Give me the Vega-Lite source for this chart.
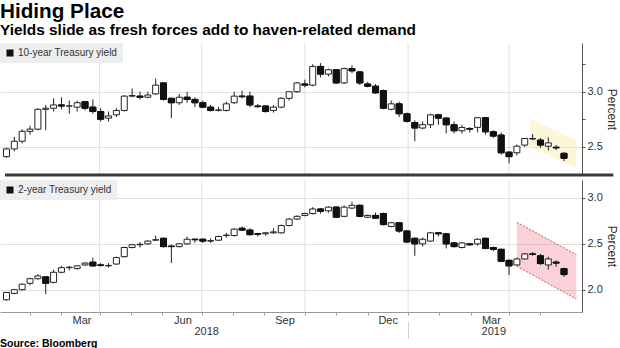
{
"$schema": "https://vega.github.io/schema/vega-lite/v6.json",
"padding": {"left": 0, "top": 1, "right": 0, "bottom": 0},
"background": "white",
"config": {"font": "Liberation Sans", "view": {"stroke": null}, "concat": {"spacing": 2}},
"title": {"text": "Hiding Place", "subtitle": "Yields slide as fresh forces add to haven-related demand", "anchor": "start", "frame": "group", "font": "Liberation Sans", "fontSize": 20.7, "fontWeight": "bold", "color": "#000", "subtitleFont": "Liberation Sans", "subtitleFontSize": 15.4, "subtitleFontWeight": "bold", "subtitleColor": "#000", "subtitlePadding": 0, "offset": 3},
"datasets": {
"quarters": [{"date": "2018-04-01"}, {"date": "2018-07-01"}, {"date": "2018-10-01"}, {"date": "2019-01-01"}, {"date": "2019-04-01"}],
"band10": [{"date": "2019-04-20", "top": 2.752, "bottom": 2.497}, {"date": "2019-05-31", "top": 2.561, "bottom": 2.306}],
"band2": [{"date": "2019-04-08", "top": 2.735, "bottom": 2.255}, {"date": "2019-05-31", "top": 2.382, "bottom": 1.898}],
"ten": [
{"date":"2018-01-08","open":2.41,"high":2.49,"low":2.40,"close":2.48},
{"date":"2018-01-15","open":2.48,"high":2.59,"low":2.46,"close":2.55},
{"date":"2018-01-22","open":2.55,"high":2.66,"low":2.53,"close":2.64},
{"date":"2018-01-29","open":2.64,"high":2.69,"low":2.61,"close":2.66},
{"date":"2018-02-05","open":2.66,"high":2.85,"low":2.65,"close":2.84},
{"date":"2018-02-12","open":2.84,"high":2.88,"low":2.65,"close":2.85},
{"date":"2018-02-19","open":2.85,"high":2.94,"low":2.82,"close":2.88},
{"date":"2018-02-26","open":2.88,"high":2.95,"low":2.84,"close":2.87},
{"date":"2018-03-05","open":2.87,"high":2.92,"low":2.80,"close":2.87},
{"date":"2018-03-12","open":2.86,"high":2.92,"low":2.82,"close":2.90},
{"date":"2018-03-19","open":2.91,"high":2.91,"low":2.83,"close":2.85},
{"date":"2018-03-26","open":2.86,"high":2.93,"low":2.80,"close":2.82},
{"date":"2018-04-02","open":2.82,"high":2.85,"low":2.73,"close":2.75},
{"date":"2018-04-09","open":2.76,"high":2.82,"low":2.73,"close":2.78},
{"date":"2018-04-16","open":2.79,"high":2.85,"low":2.77,"close":2.83},
{"date":"2018-04-23","open":2.83,"high":2.97,"low":2.82,"close":2.96},
{"date":"2018-04-30","open":2.96,"high":3.03,"low":2.95,"close":2.965},
{"date":"2018-05-07","open":2.96,"high":3.00,"low":2.93,"close":2.95},
{"date":"2018-05-14","open":2.95,"high":3.00,"low":2.94,"close":2.97},
{"date":"2018-05-21","open":2.98,"high":3.12,"low":2.97,"close":3.06},
{"date":"2018-05-28","open":3.08,"high":3.08,"low":2.92,"close":2.93},
{"date":"2018-06-04","open":2.94,"high":2.94,"low":2.76,"close":2.90},
{"date":"2018-06-11","open":2.90,"high":2.98,"low":2.88,"close":2.95},
{"date":"2018-06-18","open":2.95,"high":3.00,"low":2.90,"close":2.93},
{"date":"2018-06-25","open":2.93,"high":2.95,"low":2.86,"close":2.90},
{"date":"2018-07-02","open":2.90,"high":2.92,"low":2.85,"close":2.86},
{"date":"2018-07-09","open":2.86,"high":2.88,"low":2.82,"close":2.83},
{"date":"2018-07-16","open":2.83,"high":2.86,"low":2.82,"close":2.835},
{"date":"2018-07-23","open":2.83,"high":2.91,"low":2.82,"close":2.89},
{"date":"2018-07-30","open":2.90,"high":3.00,"low":2.89,"close":2.96},
{"date":"2018-08-06","open":2.96,"high":3.01,"low":2.94,"close":2.955},
{"date":"2018-08-13","open":2.96,"high":3.00,"low":2.86,"close":2.88},
{"date":"2018-08-20","open":2.87,"high":2.89,"low":2.85,"close":2.865},
{"date":"2018-08-27","open":2.87,"high":2.87,"low":2.81,"close":2.82},
{"date":"2018-09-03","open":2.83,"high":2.88,"low":2.81,"close":2.86},
{"date":"2018-09-10","open":2.86,"high":2.95,"low":2.85,"close":2.94},
{"date":"2018-09-17","open":2.94,"high":3.00,"low":2.92,"close":3.00},
{"date":"2018-09-24","open":3.00,"high":3.09,"low":2.99,"close":3.08},
{"date":"2018-10-01","open":3.07,"high":3.11,"low":3.04,"close":3.06},
{"date":"2018-10-08","open":3.06,"high":3.25,"low":3.05,"close":3.23},
{"date":"2018-10-15","open":3.23,"high":3.26,"low":3.13,"close":3.16},
{"date":"2018-10-22","open":3.16,"high":3.21,"low":3.14,"close":3.20},
{"date":"2018-10-29","open":3.20,"high":3.20,"low":3.07,"close":3.08},
{"date":"2018-11-05","open":3.08,"high":3.22,"low":3.07,"close":3.21},
{"date":"2018-11-12","open":3.21,"high":3.24,"low":3.17,"close":3.19},
{"date":"2018-11-19","open":3.18,"high":3.19,"low":3.06,"close":3.08},
{"date":"2018-11-26","open":3.07,"high":3.09,"low":3.04,"close":3.05},
{"date":"2018-12-03","open":3.05,"high":3.07,"low":2.98,"close":2.99},
{"date":"2018-12-10","open":3.01,"high":3.02,"low":2.84,"close":2.85},
{"date":"2018-12-17","open":2.84,"high":2.92,"low":2.83,"close":2.89},
{"date":"2018-12-24","open":2.89,"high":2.91,"low":2.77,"close":2.80},
{"date":"2018-12-31","open":2.80,"high":2.81,"low":2.72,"close":2.73},
{"date":"2019-01-07","open":2.72,"high":2.74,"low":2.55,"close":2.67},
{"date":"2019-01-14","open":2.67,"high":2.73,"low":2.66,"close":2.70},
{"date":"2019-01-21","open":2.70,"high":2.80,"low":2.67,"close":2.79},
{"date":"2019-01-28","open":2.79,"high":2.80,"low":2.70,"close":2.76},
{"date":"2019-02-04","open":2.76,"high":2.77,"low":2.62,"close":2.70},
{"date":"2019-02-11","open":2.70,"high":2.73,"low":2.62,"close":2.645},
{"date":"2019-02-18","open":2.645,"high":2.70,"low":2.62,"close":2.675},
{"date":"2019-02-25","open":2.665,"high":2.68,"low":2.63,"close":2.66},
{"date":"2019-03-04","open":2.676,"high":2.77,"low":2.63,"close":2.764},
{"date":"2019-03-11","open":2.764,"high":2.77,"low":2.61,"close":2.636},
{"date":"2019-03-18","open":2.636,"high":2.65,"low":2.58,"close":2.597},
{"date":"2019-03-25","open":2.606,"high":2.63,"low":2.43,"close":2.445},
{"date":"2019-04-01","open":2.45,"high":2.46,"low":2.35,"close":2.41},
{"date":"2019-04-08","open":2.445,"high":2.52,"low":2.42,"close":2.505},
{"date":"2019-04-15","open":2.515,"high":2.58,"low":2.50,"close":2.575},
{"date":"2019-04-22","open":2.57,"high":2.615,"low":2.56,"close":2.575},
{"date":"2019-04-29","open":2.56,"high":2.58,"low":2.49,"close":2.515},
{"date":"2019-05-06","open":2.505,"high":2.585,"low":2.465,"close":2.535},
{"date":"2019-05-13","open":2.495,"high":2.515,"low":2.47,"close":2.49},
{"date":"2019-05-20","open":2.44,"high":2.45,"low":2.37,"close":2.395}
],
"two": [
{"date":"2018-01-08","open":1.89,"high":1.97,"low":1.88,"close":1.97},
{"date":"2018-01-15","open":1.96,"high":2.01,"low":1.95,"close":2.00},
{"date":"2018-01-22","open":2.00,"high":2.07,"low":1.99,"close":2.06},
{"date":"2018-01-29","open":2.07,"high":2.13,"low":2.05,"close":2.12},
{"date":"2018-02-05","open":2.12,"high":2.17,"low":2.11,"close":2.15},
{"date":"2018-02-12","open":2.14,"high":2.15,"low":1.95,"close":2.07},
{"date":"2018-02-19","open":2.08,"high":2.22,"low":2.07,"close":2.19},
{"date":"2018-02-26","open":2.19,"high":2.26,"low":2.18,"close":2.24},
{"date":"2018-03-05","open":2.24,"high":2.26,"low":2.21,"close":2.245},
{"date":"2018-03-12","open":2.23,"high":2.27,"low":2.22,"close":2.26},
{"date":"2018-03-19","open":2.27,"high":2.30,"low":2.26,"close":2.29},
{"date":"2018-03-26","open":2.30,"high":2.35,"low":2.25,"close":2.26},
{"date":"2018-04-02","open":2.27,"high":2.29,"low":2.25,"close":2.265},
{"date":"2018-04-09","open":2.26,"high":2.29,"low":2.24,"close":2.265},
{"date":"2018-04-16","open":2.28,"high":2.36,"low":2.27,"close":2.35},
{"date":"2018-04-23","open":2.36,"high":2.47,"low":2.35,"close":2.46},
{"date":"2018-04-30","open":2.46,"high":2.50,"low":2.45,"close":2.49},
{"date":"2018-05-07","open":2.49,"high":2.52,"low":2.46,"close":2.495},
{"date":"2018-05-14","open":2.50,"high":2.54,"low":2.49,"close":2.53},
{"date":"2018-05-21","open":2.54,"high":2.59,"low":2.53,"close":2.545},
{"date":"2018-05-28","open":2.56,"high":2.57,"low":2.46,"close":2.47},
{"date":"2018-06-04","open":2.475,"high":2.49,"low":2.29,"close":2.47},
{"date":"2018-06-11","open":2.47,"high":2.51,"low":2.46,"close":2.50},
{"date":"2018-06-18","open":2.50,"high":2.58,"low":2.49,"close":2.55},
{"date":"2018-06-25","open":2.55,"high":2.56,"low":2.51,"close":2.545},
{"date":"2018-07-02","open":2.55,"high":2.56,"low":2.51,"close":2.53},
{"date":"2018-07-09","open":2.53,"high":2.56,"low":2.51,"close":2.535},
{"date":"2018-07-16","open":2.54,"high":2.59,"low":2.53,"close":2.58},
{"date":"2018-07-23","open":2.59,"high":2.62,"low":2.57,"close":2.595},
{"date":"2018-07-30","open":2.59,"high":2.67,"low":2.58,"close":2.66},
{"date":"2018-08-06","open":2.67,"high":2.69,"low":2.64,"close":2.65},
{"date":"2018-08-13","open":2.65,"high":2.67,"low":2.59,"close":2.60},
{"date":"2018-08-20","open":2.61,"high":2.62,"low":2.58,"close":2.605},
{"date":"2018-08-27","open":2.61,"high":2.63,"low":2.59,"close":2.62},
{"date":"2018-09-03","open":2.62,"high":2.67,"low":2.61,"close":2.63},
{"date":"2018-09-10","open":2.62,"high":2.71,"low":2.61,"close":2.70},
{"date":"2018-09-17","open":2.70,"high":2.78,"low":2.69,"close":2.77},
{"date":"2018-09-24","open":2.77,"high":2.81,"low":2.76,"close":2.80},
{"date":"2018-10-01","open":2.81,"high":2.84,"low":2.80,"close":2.83},
{"date":"2018-10-08","open":2.83,"high":2.90,"low":2.82,"close":2.88},
{"date":"2018-10-15","open":2.88,"high":2.89,"low":2.83,"close":2.855},
{"date":"2018-10-22","open":2.86,"high":2.91,"low":2.84,"close":2.90},
{"date":"2018-10-29","open":2.90,"high":2.91,"low":2.78,"close":2.79},
{"date":"2018-11-05","open":2.80,"high":2.92,"low":2.79,"close":2.90},
{"date":"2018-11-12","open":2.89,"high":2.96,"low":2.88,"close":2.92},
{"date":"2018-11-19","open":2.92,"high":2.93,"low":2.79,"close":2.80},
{"date":"2018-11-26","open":2.79,"high":2.82,"low":2.78,"close":2.81},
{"date":"2018-12-03","open":2.81,"high":2.84,"low":2.77,"close":2.78},
{"date":"2018-12-10","open":2.83,"high":2.84,"low":2.70,"close":2.71},
{"date":"2018-12-17","open":2.69,"high":2.74,"low":2.68,"close":2.73},
{"date":"2018-12-24","open":2.73,"high":2.74,"low":2.62,"close":2.64},
{"date":"2018-12-31","open":2.64,"high":2.65,"low":2.51,"close":2.52},
{"date":"2019-01-07","open":2.56,"high":2.57,"low":2.37,"close":2.50},
{"date":"2019-01-14","open":2.50,"high":2.57,"low":2.47,"close":2.55},
{"date":"2019-01-21","open":2.53,"high":2.63,"low":2.52,"close":2.62},
{"date":"2019-01-28","open":2.62,"high":2.63,"low":2.58,"close":2.61},
{"date":"2019-02-04","open":2.61,"high":2.62,"low":2.45,"close":2.50},
{"date":"2019-02-11","open":2.51,"high":2.52,"low":2.46,"close":2.47},
{"date":"2019-02-18","open":2.46,"high":2.52,"low":2.45,"close":2.51},
{"date":"2019-02-25","open":2.50,"high":2.51,"low":2.48,"close":2.49},
{"date":"2019-03-04","open":2.50,"high":2.56,"low":2.48,"close":2.55},
{"date":"2019-03-11","open":2.56,"high":2.57,"low":2.44,"close":2.45},
{"date":"2019-03-18","open":2.46,"high":2.47,"low":2.42,"close":2.44},
{"date":"2019-03-25","open":2.44,"high":2.45,"low":2.30,"close":2.31},
{"date":"2019-04-01","open":2.32,"high":2.33,"low":2.16,"close":2.26},
{"date":"2019-04-08","open":2.27,"high":2.35,"low":2.26,"close":2.335},
{"date":"2019-04-15","open":2.335,"high":2.40,"low":2.33,"close":2.39},
{"date":"2019-04-22","open":2.39,"high":2.41,"low":2.37,"close":2.385},
{"date":"2019-04-29","open":2.37,"high":2.39,"low":2.27,"close":2.285},
{"date":"2019-05-06","open":2.27,"high":2.36,"low":2.22,"close":2.335},
{"date":"2019-05-13","open":2.30,"high":2.32,"low":2.25,"close":2.29},
{"date":"2019-05-20","open":2.23,"high":2.24,"low":2.14,"close":2.165}
]
},
"vconcat": [
{
"width": 582, "height": 132,
"layer": [
{"data": {"name": "quarters"}, "mark": {"type": "rule", "color": "#e0e0e0", "strokeWidth": 1},
 "encoding": {"x": {"field": "date", "type": "temporal", "axis": null,
   "scale": {"type": "utc", "domain": [{"year": 2018, "month": 1, "date": 6, "hours": 16, "minutes": 34, "utc": true}, {"year": 2019, "month": 5, "date": 31, "hours": 14, "utc": true}]}}}},
{"data": {"name": "band10"}, "mark": {"type": "area", "color": "#f8eeaa", "opacity": 0.45},
 "encoding": {"x": {"field": "date", "type": "temporal", "axis": null}, "y": {"field": "top", "type": "quantitative"}, "y2": {"field": "bottom"}}},
{"data": {"name": "ten"}, "mark": {"type": "rule", "color": "#222", "strokeWidth": 1, "clip": true},
 "encoding": {"x": {"field": "date", "type": "temporal", "axis": null}, "y": {"field": "low", "type": "quantitative"}, "y2": {"field": "high"}}},
{"data": {"name": "ten"}, "mark": {"type": "bar", "width": 6, "strokeWidth": 1, "clip": true, "fill": "#ffffff", "stroke": "#222"},
 "encoding": {
   "x": {"field": "date", "type": "temporal", "axis": null},
   "y": {"field": "open", "type": "quantitative", "scale": {"domain": [2.243, 3.443], "nice": false, "zero": false},
     "axis": {"orient": "right", "values": [2.5, 2.75, 3.0, 3.25], "title": "Percent", "titleAngle": 90, "titleFontSize": 12, "titleFontWeight": "normal", "titleColor": "#333", "titlePadding": 2, "titleFont": "Liberation Sans",
       "labelFont": "Liberation Sans", "labelFontSize": 11, "labelColor": "#333", "labelPadding": 2, "labelOverlap": false, "labelFlush": false,
       "labelExpr": "datum.value == 2.5 || datum.value == 3 ? format(datum.value, '.1f') : ''",
       "tickSize": 3, "tickColor": "#555", "domainColor": "#555", "grid": true, "gridColor": "#e0e0e0",
       "gridOpacity": {"condition": {"test": "datum.value == 2.5 || datum.value == 3", "value": 1}, "value": 0}}},
   "y2": {"field": "close"}
 }},
{"data": {"name": "ten"}, "transform": [{"filter": "datum.close < datum.open"}],
 "mark": {"type": "bar", "width": 6, "strokeWidth": 1, "clip": true, "stroke": "#111"},
 "encoding": {
   "x": {"field": "date", "type": "temporal", "axis": null},
   "y": {"field": "open", "type": "quantitative"},
   "y2": {"field": "close"},
   "fill": {"datum": "10-year Treasury yield", "type": "nominal", "scale": {"range": ["#111"]},
     "legend": {"orient": "top-left", "offset": 0, "title": null, "fillColor": "#eeeeee", "padding": 5, "symbolType": "square", "symbolSize": 49, "symbolStrokeWidth": 0, "labelFont": "Liberation Sans", "labelFontSize": 10, "labelColor": "#333", "labelOffset": 3}}
 }},
{"data": {"values": [{}]}, "mark": {"type": "rule", "color": "#3a3a3a", "strokeWidth": 3},
 "encoding": {"x": {"datum": {"year": 2018, "month": 1, "date": 6, "hours": 17, "utc": true}, "type": "temporal", "axis": null},
   "x2": {"datum": {"year": 2019, "month": 7, "date": 3, "utc": true}},
   "y": {"datum": 2.243, "type": "quantitative"}}}
]
},
{
"width": 582, "height": 132,
"title": {"text": "Source: Bloomberg", "orient": "bottom", "anchor": "start", "frame": "group", "font": "Liberation Sans", "fontSize": 10.5, "fontWeight": "bold", "color": "#000", "offset": 0},
"resolve": {"axis": {"x": "independent"}},
"layer": [
{"data": {"name": "quarters"}, "mark": {"type": "rule", "color": "#e0e0e0", "strokeWidth": 1},
 "encoding": {"x": {"field": "date", "type": "temporal",
   "scale": {"type": "utc", "domain": [{"year": 2018, "month": 1, "date": 6, "hours": 16, "minutes": 34, "utc": true}, {"year": 2019, "month": 5, "date": 31, "hours": 14, "utc": true}]},
   "axis": {"orient": "bottom", "values": [{"year": 2018, "month": 7, "date": 5, "utc": true}, {"year": 2019, "month": 3, "date": 18, "utc": true}],
     "ticks": false, "tickSize": 0, "domain": false, "grid": false, "labelExpr": "utcyear(datum.value)", "labelPadding": 13,
     "labelFont": "Liberation Sans", "labelFontSize": 11, "labelColor": "#333", "labelFlush": false, "labelOverlap": false, "title": null}}}},
{"data": {"name": "band2"}, "mark": {"type": "area", "color": "#f07a92", "opacity": 0.35},
 "encoding": {"x": {"field": "date", "type": "temporal",
   "axis": {"orient": "bottom", "values": [{"year": 2019, "month": 1, "date": 1, "utc": true}], "labels": false, "domain": false, "grid": false, "ticks": true, "tickSize": 17, "tickColor": "#cfcfcf", "offset": 9, "title": null}},
   "y": {"field": "top", "type": "quantitative"}, "y2": {"field": "bottom"}}},
{"data": {"name": "band2"}, "mark": {"type": "line", "color": "#e0506a", "strokeWidth": 1, "strokeDash": [2, 1.5]},
 "encoding": {"x": {"field": "date", "type": "temporal", "axis": null}, "y": {"field": "top", "type": "quantitative"}}},
{"data": {"name": "band2"}, "mark": {"type": "line", "color": "#e0506a", "strokeWidth": 1, "strokeDash": [2, 1.5]},
 "encoding": {"x": {"field": "date", "type": "temporal", "axis": null}, "y": {"field": "bottom", "type": "quantitative"}}},
{"data": {"name": "two"}, "mark": {"type": "rule", "color": "#222", "strokeWidth": 1, "clip": true},
 "encoding": {"x": {"field": "date", "type": "temporal",
   "axis": {"orient": "bottom", "title": null, "grid": false,
     "values": [
       {"year": 2018, "month": 1, "date": 29, "utc": true}, {"year": 2018, "month": 2, "date": 26, "utc": true},
       {"year": 2018, "month": 4, "date": 1, "utc": true}, {"year": 2018, "month": 4, "date": 29, "utc": true}, {"year": 2018, "month": 5, "date": 27, "utc": true},
       {"year": 2018, "month": 7, "date": 1, "utc": true}, {"year": 2018, "month": 7, "date": 29, "utc": true}, {"year": 2018, "month": 8, "date": 26, "utc": true},
       {"year": 2018, "month": 10, "date": 1, "utc": true}, {"year": 2018, "month": 10, "date": 29, "utc": true}, {"year": 2018, "month": 11, "date": 26, "utc": true},
       {"year": 2019, "month": 1, "date": 1, "utc": true}, {"year": 2019, "month": 1, "date": 29, "utc": true}, {"year": 2019, "month": 2, "date": 26, "utc": true},
       {"year": 2019, "month": 4, "date": 1, "utc": true}, {"year": 2019, "month": 4, "date": 29, "utc": true}],
     "labelExpr": "utcmonth(datum.value) == 1 ? 'Mar' : utcmonth(datum.value) == 4 ? 'Jun' : utcmonth(datum.value) == 7 ? 'Sep' : utcmonth(datum.value) == 10 ? 'Dec' : ''",
     "labelOffset": 20, "labelPadding": -1, "labelFlush": false, "labelOverlap": false,
     "labelFont": "Liberation Sans", "labelFontSize": 11, "labelColor": "#333",
     "tickSize": 3, "tickColor": "#999", "domainColor": "#999", "domainWidth": 1}},
   "y": {"field": "low", "type": "quantitative"}, "y2": {"field": "high"}}},
{"data": {"name": "two"}, "mark": {"type": "bar", "width": 6, "strokeWidth": 1, "clip": true, "fill": "#ffffff", "stroke": "#222"},
 "encoding": {
   "x": {"field": "date", "type": "temporal", "axis": null},
   "y": {"field": "open", "type": "quantitative", "scale": {"domain": [1.757, 3.196], "nice": false, "zero": false},
     "axis": {"orient": "right", "values": [2.0, 2.5, 3.0], "title": "Percent", "titleAngle": 90, "titleFontSize": 12, "titleFontWeight": "normal", "titleColor": "#333", "titlePadding": 2, "titleFont": "Liberation Sans",
       "labelFont": "Liberation Sans", "labelFontSize": 11, "labelColor": "#333", "labelPadding": 2, "labelOverlap": false, "labelFlush": false,
       "format": ".1f", "tickSize": 3, "tickColor": "#555", "domainColor": "#555", "grid": true, "gridColor": "#e0e0e0"}},
   "y2": {"field": "close"}
 }},
{"data": {"name": "two"}, "transform": [{"filter": "datum.close < datum.open"}],
 "mark": {"type": "bar", "width": 6, "strokeWidth": 1, "clip": true, "stroke": "#111"},
 "encoding": {
   "x": {"field": "date", "type": "temporal", "axis": null},
   "y": {"field": "open", "type": "quantitative"},
   "y2": {"field": "close"},
   "fill": {"datum": "2-year Treasury yield", "type": "nominal", "scale": {"range": ["#111"]},
     "legend": {"orient": "top-left", "offset": 0, "title": null, "fillColor": "#eeeeee", "padding": 5, "symbolType": "square", "symbolSize": 49, "symbolStrokeWidth": 0, "labelFont": "Liberation Sans", "labelFontSize": 10, "labelColor": "#333", "labelOffset": 3}}
 }}
]
}
],
"resolve": {"scale": {"fill": "independent"}}
}
